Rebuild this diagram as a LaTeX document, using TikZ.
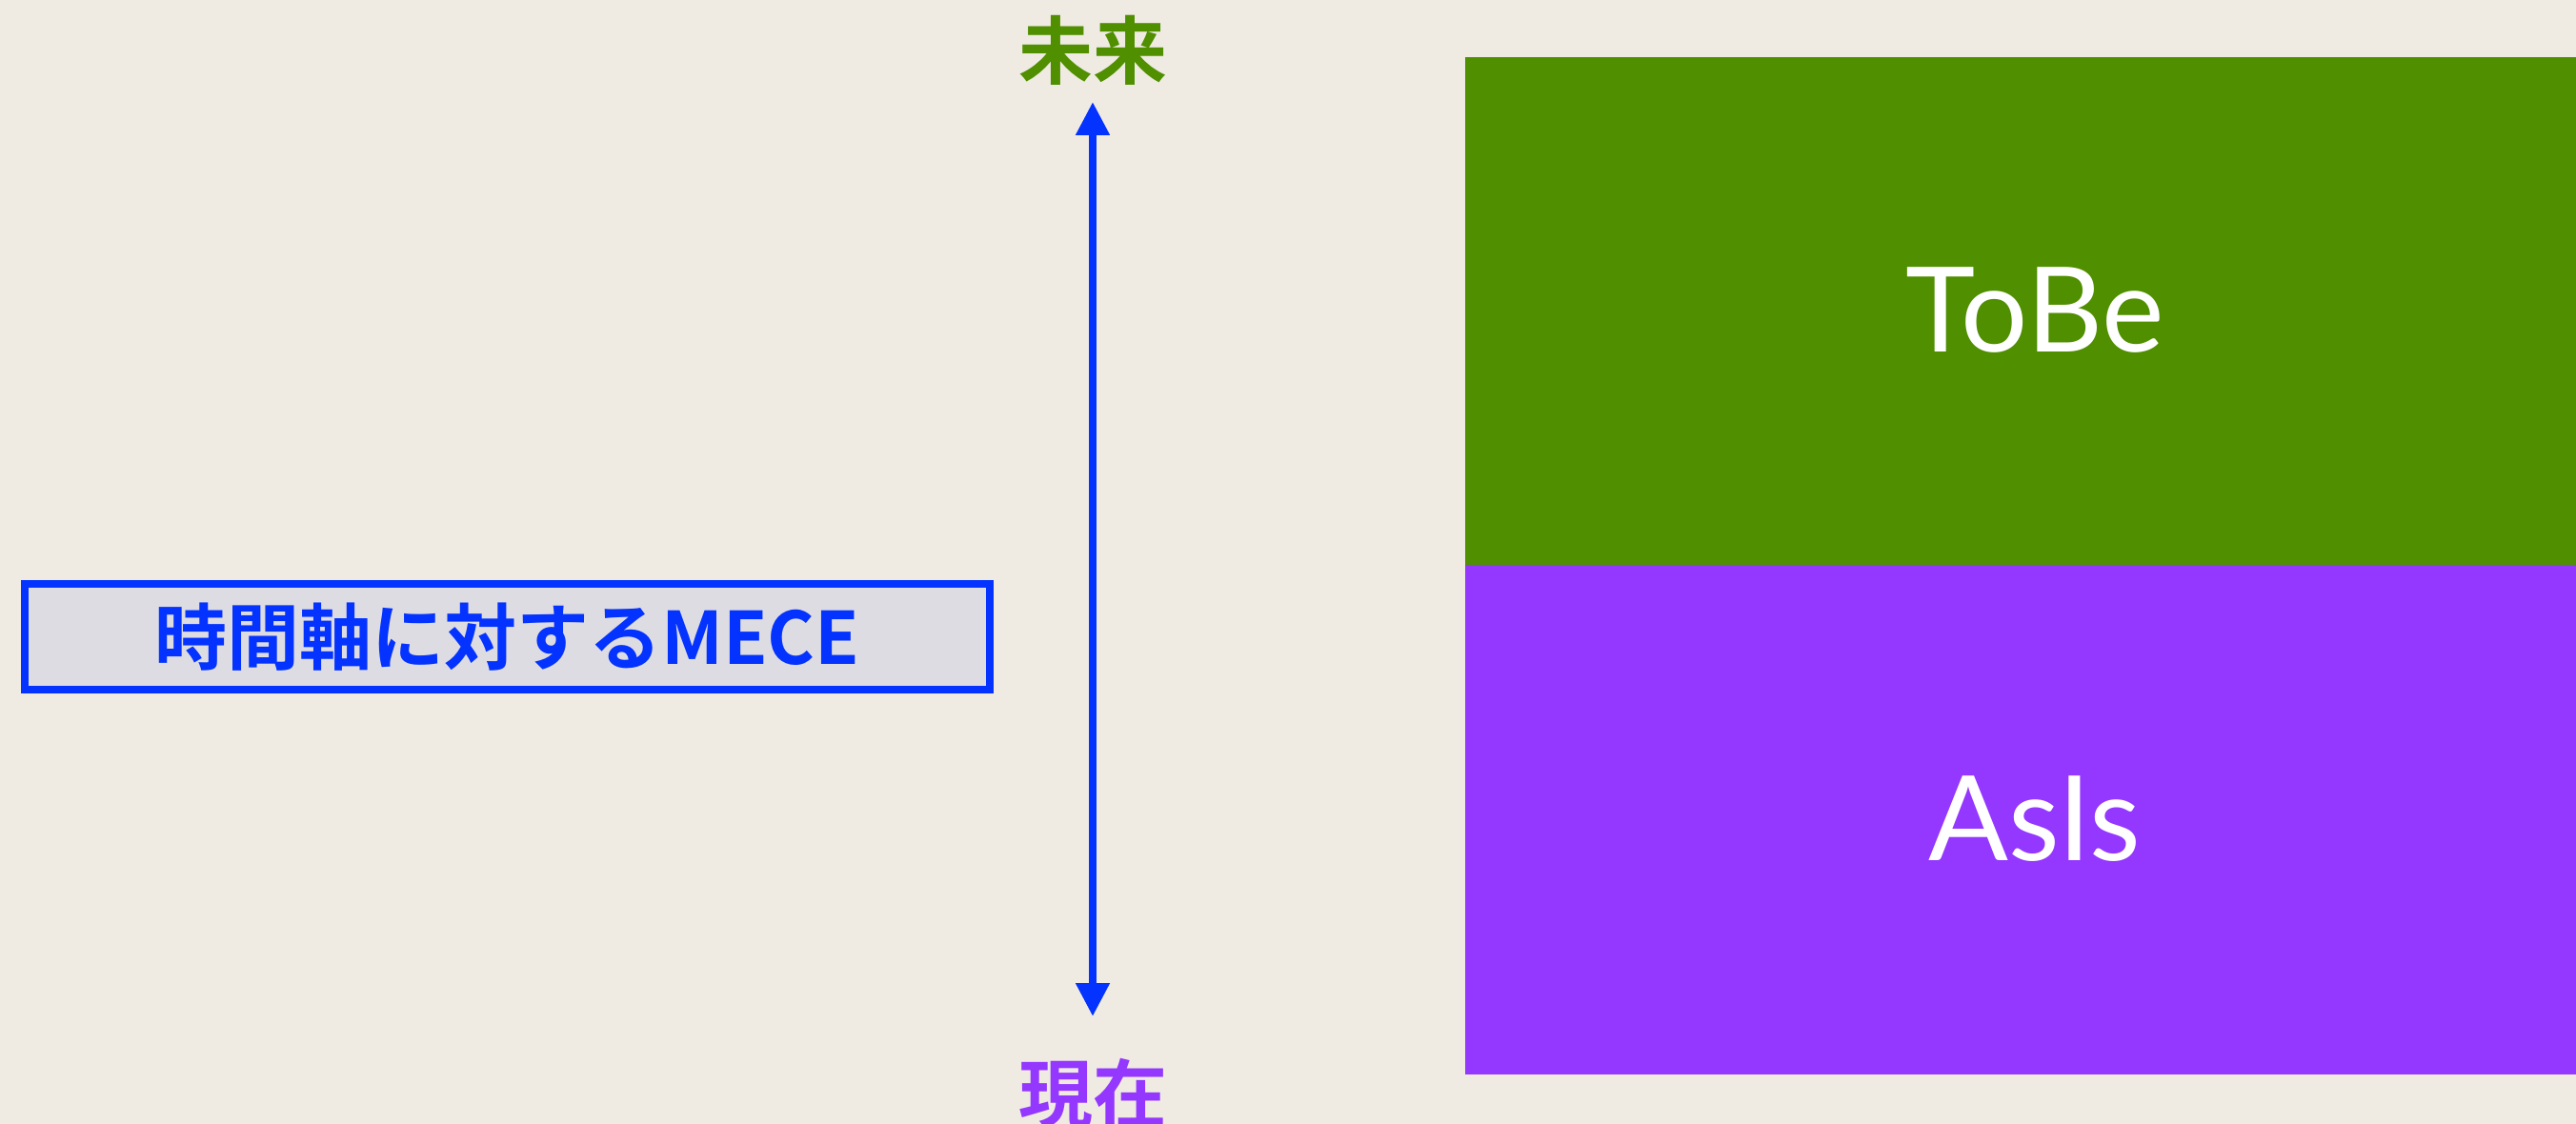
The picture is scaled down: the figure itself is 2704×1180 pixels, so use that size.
\documentclass[tikz,border=0pt]{standalone}
\usepackage{fontspec}
\usetikzlibrary{arrows.meta}
\newfontfamily\jpfont{Noto Sans CJK JP}[UprightFont={* Medium}, BoldFont={* Bold}]
\newfontfamily\thinfont{Lato}
\definecolor{bgc}{HTML}{EFEBE2}
\definecolor{fern}{HTML}{4F8F00}
\definecolor{grape}{HTML}{9437FF}
\definecolor{berry}{HTML}{0433FF}
\definecolor{boxfill}{HTML}{DDDCE3}
\tikzset{
  axislabel/.style={font=\jpfont\bfseries\fontsize{78}{80}\selectfont, inner sep=0pt},
  bigword/.style={font=\thinfont\fontsize{124}{126}\selectfont, text=white, inner sep=0pt},
  titlebox/.style={draw=berry, fill=boxfill, line width=8pt, minimum width=1013pt, minimum height=111pt,
     text=berry, font=\jpfont\bfseries\fontsize{76}{80}\selectfont, inner sep=0pt},
  timearrow/.style={draw=berry, line width=8pt, {Triangle[length=35pt,width=34pt]}-{Triangle[length=35pt,width=34pt]}}
}
\begin{document}
\begin{tikzpicture}[x=1pt,y=-1pt]
\fill[bgc] (0,0) rectangle (2704,1180);
\useasboundingbox (0,0) rectangle (2704,1180);
\fill[fern] (1538,60) rectangle (2704,593);
\fill[grape] (1538,593) rectangle (2704,1128);
\node[bigword] (tobe) at (2136,326) {ToBe};
\node[bigword] (asis) at (2136,860) {AsIs};
\node[axislabel, text=fern] (future) at (1147,53) {未来};
\node[axislabel, text=grape] (now) at (1147,1148) {現在};
\coordinate (atop) at (1147,107);
\coordinate (abot) at (1147,1067);
\draw[timearrow] (atop) -- (abot);
\node[titlebox] (title) at (532.5,668.5) {時間軸に対するMECE};
\end{tikzpicture}
\end{document}
